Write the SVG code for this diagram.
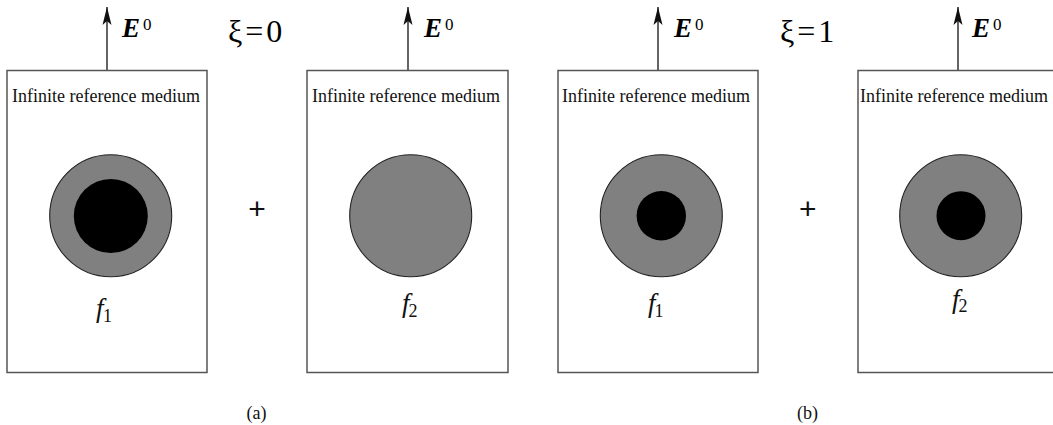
<svg xmlns="http://www.w3.org/2000/svg" width="1053" height="425" viewBox="0 0 1053 425">
<style>
.box{fill:#fff;stroke:#555;stroke-width:1.5}
.shell{fill:#808080;stroke:#222;stroke-width:1.1}
.core{fill:#000}
.arr{stroke:#111;stroke-width:1.3;fill:none}
.serif{font-family:'Liberation Serif','Times New Roman',Times,'DejaVu Serif',serif}
.lbl{font-size:18px;fill:#111}
.E{font-size:27px;font-weight:bold;font-style:italic;fill:#000}
.sup{font-size:17px;font-weight:normal;font-style:normal}
.xi{font-size:32px;letter-spacing:3px;fill:#000}
.f{font-size:27px;font-style:italic;fill:#111}
.sub{font-size:18px;font-style:normal}
.plus{font-family:'Liberation Sans',Arial,sans-serif;font-size:30px;fill:#111}
.cap{font-size:18px;fill:#111}
</style>
<defs>
<marker id="ah" markerUnits="userSpaceOnUse" markerWidth="20" markerHeight="12" viewBox="-19 -6 20 12" refX="0" refY="0" orient="auto">
<path d="M0,0 L-18,-4.5 L-14,0 L-18,4.5 Z" fill="#111"/>
</marker>
</defs>
<g id="connectors">
<line class="arr" x1="107" y1="70" x2="107" y2="7" marker-end="url(#ah)"/>
<line class="arr" x1="408" y1="70" x2="408" y2="7" marker-end="url(#ah)"/>
<line class="arr" x1="658" y1="70" x2="658" y2="7" marker-end="url(#ah)"/>
<line class="arr" x1="958" y1="70" x2="958" y2="7" marker-end="url(#ah)"/>
</g>
<g id="panel-a1">
<rect class="box" x="7" y="70.5" width="200" height="302"/>
<text class="serif lbl" x="12" y="102">Infinite reference medium</text>
<circle class="shell" cx="110.7" cy="215.7" r="61"/>
<circle class="core" cx="110.8" cy="216" r="37"/>
<text class="serif f" x="96" y="317">f<tspan class="sub" x="103" y="322">1</tspan></text>
<text class="serif E" x="122" y="37">E<tspan class="sup" x="143" y="30">0</tspan></text>
</g>
<g id="xi0"><text class="serif xi" x="228" y="42">ξ=0</text></g>
<g id="plus-a"><text class="plus" x="257" y="219" text-anchor="middle">+</text></g>
<g id="panel-a2">
<rect class="box" x="307" y="70.5" width="201" height="302"/>
<text class="serif lbl" x="312" y="102">Infinite reference medium</text>
<circle class="shell" cx="410.7" cy="215.7" r="61"/>
<text class="serif f" x="402" y="312">f<tspan class="sub" x="408.5" y="316.7">2</tspan></text>
<text class="serif E" x="424" y="37">E<tspan class="sup" x="445" y="30">0</tspan></text>
</g>
<g id="cap-a"><text class="serif cap" x="256.5" y="419" text-anchor="middle">(a)</text></g>
<g id="panel-b1">
<rect class="box" x="558" y="70.5" width="200" height="302"/>
<text class="serif lbl" x="562" y="102">Infinite reference medium</text>
<circle class="shell" cx="661.3" cy="215.7" r="61"/>
<circle class="core" cx="661.3" cy="215.7" r="24.7"/>
<text class="serif f" x="648" y="312">f<tspan class="sub" x="654.5" y="316.7">1</tspan></text>
<text class="serif E" x="674" y="37">E<tspan class="sup" x="695" y="30">0</tspan></text>
</g>
<g id="xi1"><text class="serif xi" x="780" y="42">ξ=1</text></g>
<g id="plus-b"><text class="plus" x="807.7" y="219" text-anchor="middle">+</text></g>
<g id="panel-b2">
<rect class="box" x="858" y="70.5" width="205" height="302"/>
<text class="serif lbl" x="860" y="102">Infinite reference medium</text>
<circle class="shell" cx="960.7" cy="215.7" r="61"/>
<circle class="core" cx="961" cy="215.7" r="24.5"/>
<text class="serif f" x="952" y="307.5">f<tspan class="sub" x="958.5" y="312.3">2</tspan></text>
<text class="serif E" x="972" y="37">E<tspan class="sup" x="993" y="30">0</tspan></text>
</g>
<g id="cap-b"><text class="serif cap" x="807.5" y="419" text-anchor="middle">(b)</text></g>
</svg>
